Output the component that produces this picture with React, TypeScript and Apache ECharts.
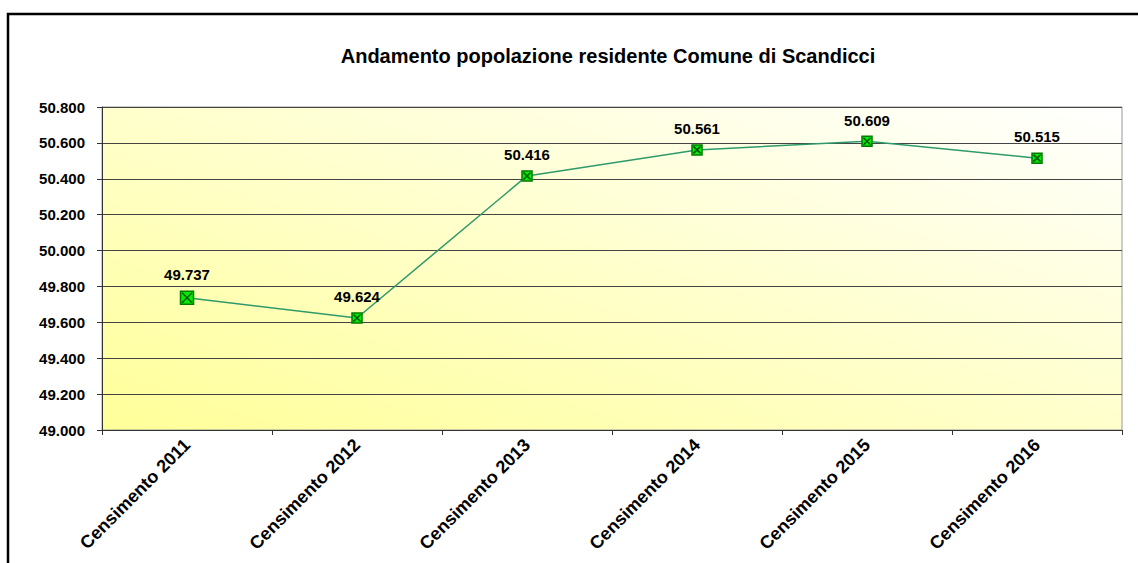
import React, { useEffect, useRef } from "react";
import * as echarts from "echarts";

const TITLE = "Andamento popolazione residente Comune di Scandicci";
const categories = [
  "Censimento 2011",
  "Censimento 2012",
  "Censimento 2013",
  "Censimento 2014",
  "Censimento 2015",
  "Censimento 2016",
];
const population = [49737, 49624, 50416, 50561, 50609, 50515];
const yMin = 49000;
const yMax = 50800;
const yStep = 200;

const fmt = (v: number) => {
  const s = Math.round(v).toString();
  return s.replace(/\B(?=(\d{3})+(?!\d))/g, ".");
};

export default function App() {
  const ref = useRef<HTMLDivElement>(null);
  useEffect(() => {
    document.body.style.margin = "0";
    const chart = echarts.init(ref.current!, null, { renderer: "svg" });
    const font = "Arial, 'Liberation Sans', sans-serif";
    const sizeFor = (i: number) => (i === 0 ? 13 : 10);
    chart.setOption({
      animation: false,
      backgroundColor: "#ffffff",
      title: {
        text: TITLE,
        left: 603,
        textAlign: "center",
        top: 41,
        textStyle: { fontFamily: font, fontSize: 20, fontWeight: "bold", color: "#000" },
      },
      graphic: [
        {
          type: "rect",
          shape: { x: 8, y: 14, width: 1300, height: 700 },
          style: { fill: "none", stroke: "#000", lineWidth: 2.5 },
          silent: true,
          z: 100,
        },
      ],
      grid: {
        left: 102,
        right: 16,
        top: 107,
        bottom: 133,
        show: true,
        borderColor: "#999",
        borderWidth: 1,
        backgroundColor: new echarts.graphic.LinearGradient(0, 1, 1, 0, [
          { offset: 0, color: "#ffff99" },
          { offset: 1, color: "#ffffff" },
        ]),
      },
      xAxis: {
        type: "category",
        data: categories,
        boundaryGap: true,
        axisLine: { lineStyle: { color: "#333", width: 1 } },
        axisTick: { show: true, length: 5, inside: false, lineStyle: { color: "#333" } },
        axisLabel: {
          rotate: 45,
          margin: 12,
          fontFamily: font,
          fontSize: 18,
          fontWeight: "bold",
          color: "#000",
        },
      },
      yAxis: {
        type: "value",
        min: yMin,
        max: yMax,
        interval: yStep,
        axisLine: { show: true, lineStyle: { color: "#333" } },
        axisTick: { show: true, length: 5, lineStyle: { color: "#333" } },
        splitLine: { show: true, lineStyle: { color: "#444", width: 1 } },
        axisLabel: {
          margin: 17,
          formatter: (v: number) => fmt(v),
          fontFamily: font,
          fontSize: 15,
          fontWeight: "bold",
          color: "#000",
        },
      },
      series: [
        {
          type: "line",
          data: population.map((v, i) => ({ value: v, symbolSize: sizeFor(i) })),
          symbol: "rect",
          lineStyle: { color: "#2e9a6a", width: 1.5 },
          itemStyle: { color: "#00ee00", borderColor: "#007a00", borderWidth: 1.5 },
          label: {
            show: true,
            position: "top",
            distance: 8,
            formatter: (p: any) => fmt(p.value),
            fontFamily: font,
            fontSize: 15,
            fontWeight: "bold",
            color: "#000",
          },
          z: 3,
        },
        {
          type: "line",
          data: population.map((v, i) => ({ value: v, symbolSize: sizeFor(i) - 3 })),
          symbol: "path://M0,0 L10,10 M10,0 L0,10",
          lineStyle: { width: 0, opacity: 0 },
          itemStyle: { color: "none", borderColor: "#005500", borderWidth: 1.5 },
          label: { show: false },
          silent: true,
          z: 4,
        },
      ],
    });
    return () => chart.dispose();
  }, []);
  return (
    <div
      ref={ref}
      style={{ position: "absolute", left: 0, top: 0, width: 1138, height: 563 }}
    />
  );
}
